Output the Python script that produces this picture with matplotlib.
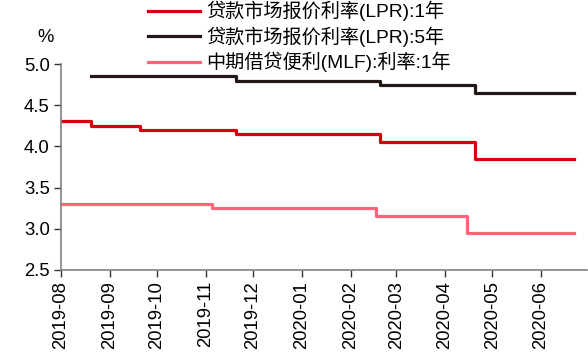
import numpy as np
import pandas as pd
import matplotlib
matplotlib.use("Agg")
import matplotlib.pyplot as plt
import matplotlib.dates as mdates

plt.rcParams['font.family'] = ['Liberation Sans', 'Noto Sans CJK SC']

# rate change dates and values (step series)
lpr1_dates = ["2019-08-01", "2019-08-20", "2019-09-20", "2019-11-20", "2020-02-20", "2020-04-20", "2020-06-22"]
lpr1_vals = [4.31, 4.25, 4.20, 4.15, 4.05, 3.85, 3.85]

lpr5_dates = ["2019-08-20", "2019-11-20", "2020-02-20", "2020-04-20", "2020-06-22"]
lpr5_vals = [4.85, 4.80, 4.75, 4.65, 4.65]

mlf_dates = ["2019-08-01", "2019-11-05", "2020-02-17", "2020-04-15", "2020-06-22"]
mlf_vals = [3.30, 3.25, 3.15, 2.95, 2.95]

labels = ["贷款市场报价利率(LPR):1年", "贷款市场报价利率(LPR):5年", "中期借贷便利(MLF):利率:1年"]
colors = ["#D7000F", "#231815", "#FF6478"]

fig = plt.figure(figsize=(5.88, 3.6), dpi=100)
ax = fig.add_axes([0.1037, 0.25, 0.894, 0.572])

series = [(lpr1_dates, lpr1_vals), (lpr5_dates, lpr5_vals), (mlf_dates, mlf_vals)]
for (d, v), lab, c in zip(series, labels, colors):
    ax.plot(pd.to_datetime(d), v, drawstyle="steps-post", color=c, lw=2.3, label=lab)

ax.set_ylim(2.5, 5.0)
ax.set_yticks(np.arange(2.5, 5.01, 0.5))
ax.yaxis.set_major_formatter(plt.FormatStrFormatter("%.1f"))
ax.set_xlim(pd.Timestamp("2019-08-01"), pd.Timestamp("2020-06-30"))
ax.xaxis.set_major_locator(mdates.MonthLocator())
ax.xaxis.set_major_formatter(mdates.DateFormatter("%Y-%m"))
plt.setp(ax.get_xticklabels(), rotation=90)

for s in ["top", "right"]:
    ax.spines[s].set_visible(False)
for s in ["left", "bottom"]:
    ax.spines[s].set_color("#808080")
    ax.spines[s].set_linewidth(1.2)
ax.tick_params(labelsize=13.3, length=5, width=1, color="#333333", pad=3)

fig.text(46 / 588, 1 - 38 / 360, "%", fontsize=13.3, ha="center", va="center")

fig.legend(loc="upper left", bbox_to_anchor=(148 / 588, 0.997), frameon=False,
           fontsize=13.8, handlelength=2.7, handletextpad=0.35, labelspacing=0.26,
           borderaxespad=0, borderpad=0)

fig.savefig("out.png", dpi=100)
